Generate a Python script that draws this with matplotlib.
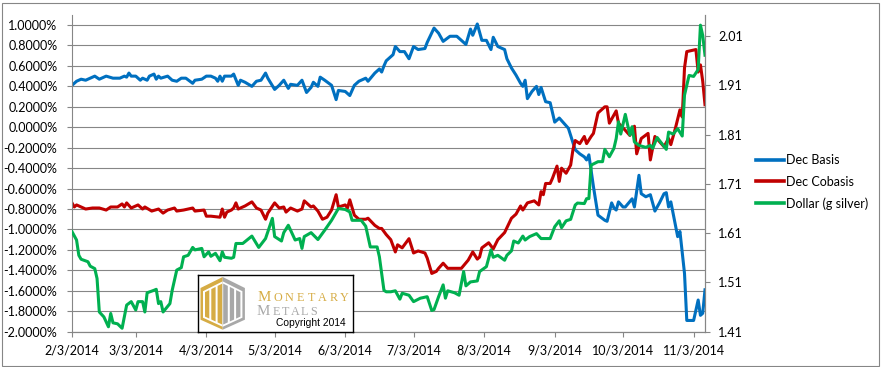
import pandas as pd
import matplotlib
matplotlib.use('Agg')
import matplotlib.pyplot as plt
from matplotlib.ticker import FuncFormatter
from matplotlib.patches import Polygon, Rectangle
from matplotlib.lines import Line2D

# data: day offsets from 2/3/2014
start = pd.Timestamp('2014-02-03')

basis_days = [0, 2, 4, 6, 8, 10, 12, 15, 18, 21, 23, 24, 25, 26, 28, 30, 31, 33, 34, 36,
              37, 38, 39, 42, 44, 46, 48, 50, 53, 54, 57, 59, 61, 63, 64, 65, 66, 67, 70, 71,
              73, 74, 76, 79, 81, 83, 85, 86, 89, 91, 93, 95, 96, 99, 101, 103, 105, 106, 108, 109,
              111, 114, 116, 117, 120, 122, 124, 126, 129, 130, 133, 135, 136, 137, 138, 140, 141, 142, 144, 146,
              148, 150, 152, 155, 156, 159, 161, 163, 166, 169, 171, 173, 175, 176, 178, 180, 182, 184, 185, 187,
              190, 191, 193, 195, 197, 198, 199, 200, 202, 204, 205, 206, 208, 210, 212, 214, 216, 218, 219, 221,
              223, 225, 226, 227, 229, 231, 234, 235, 237, 238, 239, 240, 242, 243, 246, 247, 249, 250, 252, 254,
              256, 258, 260, 261, 262, 263, 266, 267, 269, 270, 273, 275, 276, 277, 278]
basis = [0.41, 0.45, 0.47, 0.46, 0.48, 0.50, 0.47, 0.50, 0.48, 0.48, 0.50, 0.49, 0.53, 0.50, 0.50, 0.46, 0.48, 0.46, 0.50, 0.52,
         0.47, 0.50, 0.48, 0.50, 0.46, 0.45, 0.48, 0.48, 0.43, 0.46, 0.47, 0.50, 0.50, 0.48, 0.45, 0.50, 0.45, 0.50, 0.50, 0.52,
         0.41, 0.46, 0.44, 0.40, 0.45, 0.46, 0.53, 0.48, 0.37, 0.41, 0.46, 0.38, 0.42, 0.41, 0.46, 0.34, 0.39, 0.44, 0.40, 0.49,
         0.46, 0.41, 0.27, 0.36, 0.35, 0.31, 0.41, 0.45, 0.48, 0.45, 0.53, 0.57, 0.54, 0.60, 0.65, 0.69, 0.71, 0.79, 0.74, 0.74,
         0.67, 0.79, 0.76, 0.77, 0.83, 0.97, 0.92, 0.84, 0.89, 0.89, 0.85, 0.81, 0.96, 0.90, 1.01, 0.85, 0.85, 0.76, 0.88, 0.79,
         0.76, 0.67, 0.58, 0.51, 0.43, 0.40, 0.46, 0.28, 0.35, 0.40, 0.32, 0.39, 0.25, 0.24, 0.05, 0.09, 0.04, -0.01, -0.08, -0.22,
         -0.26, -0.29, -0.32, -0.27, -0.58, -0.86, -0.91, -0.92, -0.74, -0.79, -0.81, -0.73, -0.78, -0.78, -0.70, -0.78, -0.47, -0.65, -0.68, -0.66,
         -0.82, -0.74, -0.65, -0.64, -0.78, -0.73, -1.07, -1.02, -1.43, -1.89, -1.89, -1.69, -1.84, -1.82, -1.59]

cobasis_days = [0, 1, 2, 4, 6, 9, 12, 15, 17, 20, 22, 23, 24, 26, 29, 31, 32, 35, 38, 40,
                42, 45, 46, 49, 53, 54, 58, 59, 61, 65, 66, 67, 68, 70, 71, 72, 73, 76, 79, 81,
                83, 85, 86, 89, 91, 93, 94, 96, 99, 101, 102, 105, 106, 108, 110, 112, 114, 116, 117, 120,
                121, 122, 124, 126, 129, 130, 133, 135, 136, 138, 140, 142, 143, 145, 148, 150, 152, 155, 156, 158,
                160, 161, 163, 165, 171, 174, 176, 178, 179, 180, 183, 185, 187, 190, 193, 195, 197, 198, 200, 203,
                205, 206, 207, 208, 210, 211, 213, 214, 215, 217, 219, 220, 221, 223, 225, 226, 228, 229, 231, 234,
                235, 236, 239, 240, 243, 245, 247, 248, 250, 253, 254, 256, 258, 260, 262, 263, 265, 267, 268, 269,
                270, 274, 275, 276, 277, 278]
cobasis = [-0.74, -0.78, -0.76, -0.78, -0.80, -0.79, -0.79, -0.81, -0.78, -0.78, -0.75, -0.78, -0.74, -0.79, -0.76, -0.80, -0.78, -0.82, -0.80, -0.84,
           -0.81, -0.79, -0.82, -0.81, -0.79, -0.82, -0.81, -0.87, -0.87, -0.88, -0.80, -0.88, -0.83, -0.81, -0.79, -0.74, -0.80, -0.77, -0.73, -0.79,
           -0.81, -0.90, -0.84, -0.74, -0.79, -0.78, -0.83, -0.79, -0.82, -0.80, -0.72, -0.78, -0.77, -0.82, -0.90, -0.88, -0.81, -0.66, -0.78, -0.76,
           -0.79, -0.71, -0.86, -0.90, -0.90, -0.89, -0.96, -0.99, -0.99, -1.05, -1.10, -1.22, -1.15, -1.18, -1.09, -1.23, -1.21, -1.23, -1.28, -1.43,
           -1.41, -1.38, -1.33, -1.38, -1.38, -1.30, -1.22, -1.29, -1.27, -1.18, -1.13, -1.19, -1.10, -1.03, -0.89, -0.85, -0.77, -0.81, -0.74, -0.72,
           -0.76, -0.63, -0.66, -0.55, -0.55, -0.50, -0.38, -0.53, -0.40, -0.45, -0.37, -0.22, -0.13, -0.16, -0.09, -0.16, -0.09, -0.06, 0.14, 0.20,
           0.20, 0.04, 0.16, 0.04, -0.03, -0.08, 0.01, -0.26, -0.11, -0.06, -0.32, -0.09, -0.14, -0.19, -0.11, -0.17, -0.01, 0.17, 0.10, 0.58,
           0.74, 0.76, 0.54, 0.61, 0.45, 0.22]

dollar_days = [0, 2, 3, 4, 7, 8, 10, 11, 12, 14, 16, 17, 18, 20, 22, 24, 26, 28, 29, 31,
               32, 33, 36, 37, 38, 39, 40, 43, 44, 46, 48, 49, 51, 53, 54, 57, 58, 60, 61, 63,
               65, 66, 67, 70, 71, 72, 75, 79, 82, 85, 88, 89, 92, 93, 95, 98, 100, 101, 102, 105,
               108, 111, 114, 117, 120, 122, 123, 125, 127, 129, 131, 134, 135, 137, 138, 140, 142, 144, 145, 148,
               150, 153, 156, 158, 159, 161, 163, 164, 165, 168, 170, 172, 173, 175, 178, 179, 182, 184, 185, 187,
               190, 191, 193, 194, 196, 198, 199, 201, 204, 206, 210, 212, 214, 215, 217, 219, 221, 222, 225, 226,
               227, 228, 231, 233, 234, 236, 238, 239, 240, 241, 243, 245, 246, 247, 249, 252, 254, 255, 257, 259,
               261, 262, 264, 266, 268, 269, 271, 273, 275, 276, 277, 278]
dollar = [1.613, 1.596, 1.565, 1.557, 1.552, 1.543, 1.538, 1.518, 1.450, 1.440, 1.420, 1.447, 1.428, 1.426, 1.417, 1.464, 1.471, 1.454, 1.471, 1.471,
          1.450, 1.489, 1.494, 1.496, 1.467, 1.471, 1.450, 1.467, 1.494, 1.535, 1.540, 1.562, 1.565, 1.581, 1.576, 1.579, 1.562, 1.572, 1.563, 1.569,
          1.554, 1.572, 1.561, 1.559, 1.561, 1.589, 1.589, 1.604, 1.581, 1.599, 1.640, 1.603, 1.594, 1.611, 1.626, 1.596, 1.599, 1.579, 1.603, 1.611,
          1.597, 1.616, 1.636, 1.660, 1.658, 1.653, 1.636, 1.636, 1.636, 1.624, 1.582, 1.582, 1.562, 1.494, 1.491, 1.491, 1.493, 1.476, 1.488, 1.484,
          1.471, 1.478, 1.481, 1.453, 1.455, 1.481, 1.505, 1.478, 1.493, 1.489, 1.484, 1.532, 1.503, 1.511, 1.513, 1.532, 1.542, 1.576, 1.561, 1.565,
          1.555, 1.565, 1.574, 1.594, 1.590, 1.604, 1.596, 1.603, 1.609, 1.599, 1.599, 1.623, 1.635, 1.621, 1.635, 1.638, 1.667, 1.671, 1.670, 1.680,
          1.680, 1.748, 1.755, 1.755, 1.780, 1.765, 1.782, 1.802, 1.836, 1.811, 1.851, 1.809, 1.826, 1.795, 1.788, 1.784, 1.788, 1.782, 1.804, 1.792,
          1.780, 1.815, 1.811, 1.822, 1.807, 1.890, 1.930, 1.928, 1.942, 2.032, 2.011, 1.971]

month_ticks = ['2014-02-03', '2014-03-03', '2014-04-03', '2014-05-03', '2014-06-03',
               '2014-07-03', '2014-08-03', '2014-09-03', '2014-10-03', '2014-11-03']
left_ticks = [-2.0, -1.8, -1.6, -1.4, -1.2, -1.0, -0.8, -0.6, -0.4, -0.2,
              0.0, 0.2, 0.4, 0.6, 0.8, 1.0]
right_ticks = [1.41, 1.51, 1.61, 1.71, 1.81, 1.91, 2.01]
labels = ['Dec Basis', 'Dec Cobasis', 'Dollar (g silver)']
colors = ['#0070C0', '#C00000', '#00B050']


def to_dates(days):
    return start + pd.to_timedelta(days, unit='D')


plt.rcParams['font.family'] = ['Lato', 'DejaVu Sans']
plt.rcParams['font.size'] = 9
axis_gray = '#868686'

fig = plt.figure(figsize=(8.81, 3.67), dpi=100)
fig.patch.set_facecolor('white')
fig.patches.append(Rectangle((1.5 / 881, 1.5 / 367), 877 / 881, 363 / 367,
                             transform=fig.transFigure, fill=False,
                             edgecolor=axis_gray, lw=0.8))

ax = fig.add_axes([72 / 881, 1 - 331.7 / 367, 633 / 881, 316.7 / 367])
ax2 = ax.twinx()

ax.plot(to_dates(basis_days), basis, color=colors[0], lw=2.2, solid_joinstyle='round')
ax.plot(to_dates(cobasis_days), cobasis, color=colors[1], lw=2.2, solid_joinstyle='round')
ax2.plot(to_dates(dollar_days), dollar, color=colors[2], lw=2.2, solid_joinstyle='round')

ax.set_xlim(start, start + pd.Timedelta(days=278))
ax.set_ylim(-2.0, 1.098)
ax2.set_ylim(1.41, 2.0526)

ax.set_yticks(left_ticks)
ax.yaxis.set_major_formatter(FuncFormatter(lambda v, p: f'{v:.4f}%'))
ax2.set_yticks(right_ticks)
ax2.yaxis.set_major_formatter(FuncFormatter(lambda v, p: f'{v:.2f}'))

tick_dates = pd.to_datetime(month_ticks)
ax.set_xticks(tick_dates)
ax.set_xticklabels([f'{d.month}/{d.day}/{d.year}' for d in tick_dates])

ax.grid(axis='y', color=axis_gray, lw=0.8)
ax.set_axisbelow(True)
for a in (ax, ax2):
    a.spines['top'].set_visible(False)
    for s in ('left', 'right', 'bottom'):
        a.spines[s].set_color(axis_gray)
        a.spines[s].set_linewidth(0.8)
    a.tick_params(colors=axis_gray, labelcolor='black', length=3.5, width=0.8, labelsize=9)
ax.tick_params(axis='y', pad=7)
ax.tick_params(axis='x', pad=6)
ax2.tick_params(axis='y', pad=6)
ax2.spines['left'].set_visible(False)

handles = [Line2D([], [], color=c, lw=2.6) for c in colors]
fig.legend(handles, labels, loc='upper left', bbox_to_anchor=(750 / 881, 1 - 148 / 367),
           frameon=False, handlelength=2.2, handletextpad=0.2, labelspacing=0.75,
           borderpad=0, fontsize=9)

# Monetary Metals logo box
gold = '#D6AC44'
silver = '#A8A8A8'
lg = fig.add_axes([198 / 881, 1 - 331.7 / 367, 155 / 881, 56.7 / 367])
lg.set_xlim(0, 155)
lg.set_ylim(0, 56.7)
lg.set_xticks([])
lg.set_yticks([])
for s in lg.spines.values():
    s.set_color('black')
    s.set_linewidth(1.0)


def half_logo(color, mirror):
    fx = (lambda x: 49.4 - x) if mirror else (lambda x: x)
    top = lambda x: 40.5 + (x - 5) * 0.5
    bot = lambda x: 14 - (x - 5) * 0.46
    lg.add_patch(Polygon([(fx(24.7), 54.7), (fx(2.5), 43.7), (fx(2.5), 12), (fx(24.7), 2)],
                         color=color, lw=0))
    lg.add_patch(Polygon([(fx(5), top(5)), (fx(24.7), top(24.7)), (fx(24.7), bot(24.7)),
                          (fx(5), bot(5))], color='white', lw=0))
    for x0, x1 in ((7, 11.3), (13.3, 17.6), (19.6, 24.2)):
        lg.add_patch(Polygon([(fx(x0), top(x0) - 2), (fx(x1), top(x1) - 2),
                              (fx(x1), bot(x1) + 2), (fx(x0), bot(x0) + 2)],
                             color=color, lw=0))


half_logo(gold, False)
half_logo(silver, True)

serif = 'Liberation Serif'
lg.text(60, 31, 'M', family=serif, fontsize=10.8, color=gold, va='baseline')
for i, ch in enumerate('ONETARY'):
    lg.text(74.7 + 11 * i + 5.5, 31, ch, family=serif, fontsize=8.7, color=gold,
            ha='center', va='baseline')
lg.text(58.7, 16.4, 'M', family=serif, fontsize=10.8, color=silver, va='baseline')
for i, ch in enumerate('ETALS'):
    lg.text(73.7 + 9.3 * i + 4.65, 16.4, ch, family=serif, fontsize=8.7, color=silver,
            ha='center', va='baseline')
lg.text(78, 5.2, 'Copyright 2014', family='Liberation Sans', fontsize=7.4, color='black',
        va='baseline')

fig.savefig('out.png', dpi=100)
